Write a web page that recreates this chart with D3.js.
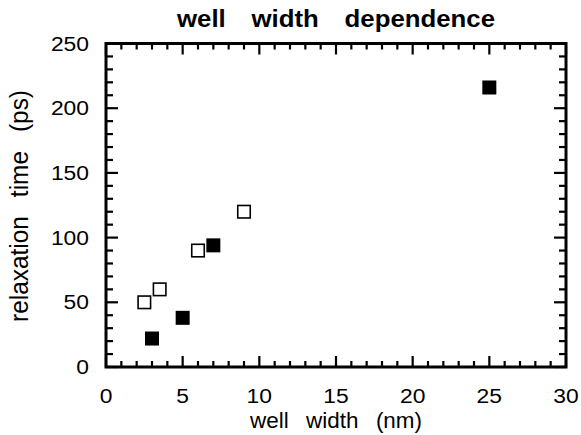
<!DOCTYPE html>
<html><head><meta charset="utf-8">
<script src="https://cdn.jsdelivr.net/npm/d3@7"></script>
<style>body{margin:0;background:#fff}svg{display:block}text{font-family:"Liberation Sans",Arial,sans-serif}</style>
</head><body><svg id="c" width="581" height="435"></svg>
<script>
const filledX = [3, 5, 7, 25];
const filledY = [22, 38, 94, 216];
const openX = [2.5, 3.5, 6, 9];
const openY = [50, 60, 90, 120];
const xTicks = [0, 5, 10, 15, 20, 25, 30];
const yTicks = [0, 50, 100, 150, 200, 250];
const title = "well\u2003width\u2003dependence";
const xLabel = "well\u2002 width\u2002 (nm)";
const yLabel = "relaxation\u2002 time\u2002 (ps)";

const svg = d3.select("#c");
const L = 106, R = 566, T = 43.5, B = 367;
const x = d3.scaleLinear().domain([0, 30]).range([L, R]);
const y = d3.scaleLinear().domain([0, 250]).range([B, T]);

const g = svg.append("g");
const minorX = d3.range(0, 31, 1), minorY = d3.range(0, 251, 10);
function tickLines(vals, isX, len) {
  vals.forEach(v => {
    if (isX) {
      g.append("line").attr("x1", x(v)).attr("x2", x(v)).attr("y1", B).attr("y2", B - len);
      g.append("line").attr("x1", x(v)).attr("x2", x(v)).attr("y1", T).attr("y2", T + len);
    } else {
      g.append("line").attr("y1", y(v)).attr("y2", y(v)).attr("x1", L).attr("x2", L + len);
      g.append("line").attr("y1", y(v)).attr("y2", y(v)).attr("x1", R).attr("x2", R - len);
    }
  });
}
tickLines(minorX.filter(v => v % 5), true, 6);
tickLines(xTicks, true, 11);
tickLines(minorY.filter(v => v % 50), false, 7);
tickLines(yTicks, false, 12);
g.selectAll("line").attr("stroke", "#000").attr("stroke-width", 2.2);
g.append("rect").attr("x", L).attr("y", T).attr("width", R - L).attr("height", B - T)
  .attr("fill", "none").attr("stroke", "#000").attr("stroke-width", 3);

// tick labels
svg.append("g").selectAll("text").data(xTicks).join("text")
  .attr("x", d => x(d)).attr("y", 403).attr("text-anchor", "middle")
  .attr("font-size", 20).attr("textLength", d => String(d).length * 12.7)
  .attr("lengthAdjust", "spacingAndGlyphs").text(d => d);
svg.append("g").selectAll("text").data(yTicks).join("text")
  .attr("x", 89).attr("y", d => y(d) + 7).attr("text-anchor", "end")
  .attr("font-size", 20).attr("textLength", d => String(d).length * 12.7)
  .attr("lengthAdjust", "spacingAndGlyphs").text(d => d);

// titles
svg.append("text").attr("x", 177).attr("y", 27)
  .attr("font-size", 24).attr("font-weight", "bold")
  .attr("textLength", 318).attr("lengthAdjust", "spacingAndGlyphs").text(title);
svg.append("text").attr("x", 250).attr("y", 428)
  .attr("font-size", 22).attr("textLength", 172).attr("lengthAdjust", "spacingAndGlyphs").text(xLabel);
svg.append("text").attr("transform", "translate(28,322) rotate(-90)")
  .attr("font-size", 25).attr("textLength", 232).attr("lengthAdjust", "spacingAndGlyphs").text(yLabel);

// markers
const s = 14;
svg.append("g").selectAll("rect").data(openX.map((v, i) => [v, openY[i]])).join("rect")
  .attr("x", d => x(d[0]) - s / 2 + 0.75).attr("y", d => y(d[1]) - s / 2 + 0.75)
  .attr("width", s - 1.5).attr("height", s - 1.5)
  .attr("fill", "#fff").attr("stroke", "#000").attr("stroke-width", 1.6);
svg.append("g").selectAll("rect").data(filledX.map((v, i) => [v, filledY[i]])).join("rect")
  .attr("x", d => x(d[0]) - s / 2).attr("y", d => y(d[1]) - s / 2)
  .attr("width", s).attr("height", s).attr("fill", "#000");
</script></body></html>
